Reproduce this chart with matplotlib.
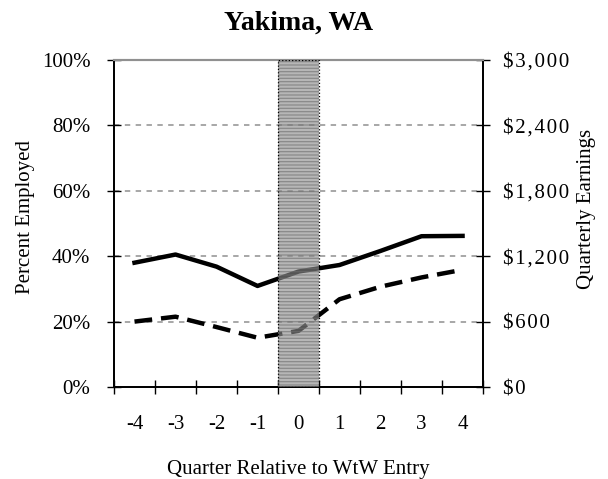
import matplotlib.pyplot as plt
import matplotlib as mpl

plt.rcParams['font.family'] = ['Liberation Serif', 'DejaVu Serif']
mpl.rcParams['hatch.linewidth'] = 0.9

quarters = ['-4', '-3', '-2', '-1', '0', '1', '2', '3', '4']
pct_employed = [38.0, 40.5, 36.8, 30.9, 35.3, 37.3, 41.6, 46.1, 46.2]
earnings = [600, 645, 550, 452, 515, 805, 920, 1005, 1075]

fig = plt.figure(figsize=(6.08, 4.79), dpi=100)
ax = fig.add_axes([0.1875, 0.192, 0.607, 0.683])
ax2 = ax.twinx()

x = [i + 0.5 for i in range(len(quarters))]

ax.plot(x, pct_employed, color='black', lw=3.2, zorder=3)
ax2.plot(x, earnings, color='black', lw=3.2, dashes=(4, 2), zorder=3)

# entry quarter band, drawn over the lines (hatch takes the edge colour,
# so the dotted outline is a separate patch)
ax2.axvspan(4, 5, facecolor='#8a8a8a', edgecolor='#6e6e6e', lw=0,
            hatch='-----', alpha=0.62, zorder=5)
ax2.axvspan(4, 5, fill=False, edgecolor='black', linestyle=':',
            lw=0.9, zorder=6)

ax.set_xlim(0, 9)
ax.set_ylim(0, 100)
ax2.set_ylim(0, 3000)

for g in [20, 40, 60, 80]:
    ax.axhline(g, color='#a0a0a0', lw=1.3, ls=(0, (3, 3)), zorder=1)

ax.set_xticks(range(10))
ax.set_xticklabels([])
ax.set_xticks(x, minor=True)
ax.set_xticklabels(quarters, minor=True, fontsize=15)
ax.tick_params(axis='x', which='major', direction='inout', length=10, width=1)
ax.tick_params(axis='x', which='minor', length=0, pad=20)

ax.set_yticks(range(0, 101, 20))
ax.set_yticklabels([f'{v}%' for v in range(0, 101, 20)], fontsize=15)
ax.tick_params(axis='y', direction='inout', length=10, width=1, pad=12)

# right labels are set a little wider in the original
hair = '\u200a'
ax2.set_yticks(range(0, 3001, 600))
ax2.set_yticklabels([hair.join(f'${v:,}') for v in range(0, 3001, 600)], fontsize=15)
ax2.tick_params(axis='y', direction='inout', length=10, width=1, pad=9)

for a in (ax, ax2):
    a.spines['top'].set_color('#909090')
    a.spines['top'].set_linewidth(1.5)
    a.spines['left'].set_linewidth(1.3)
    a.spines['right'].set_linewidth(1.3)
    a.spines['bottom'].set_linewidth(1.3)

ax.set_ylabel('Percent Employed', fontsize=15)
ax.yaxis.set_label_coords(-0.214, 0.52)
ax2.set_ylabel('Quarterly Earnings', fontsize=15)
ax2.yaxis.set_label_coords(1.255, 0.545)
ax.set_xlabel('Quarter Relative to WtW Entry', fontsize=15, labelpad=19)
ax.set_title('Yakima, WA', fontsize=20, fontweight='bold', pad=22)

fig.savefig('out.png', dpi=100)
